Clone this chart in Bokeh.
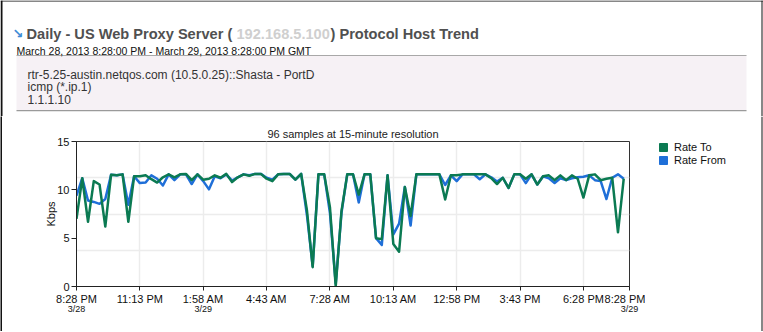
from bokeh.plotting import figure
from bokeh.layouts import column, row
from bokeh.models import (ColumnDataSource, Range1d, FixedTicker, LinearAxis,
                          Legend, LegendItem)
from bokeh.core.properties import value
from bokeh.embed import file_html
from bokeh.resources import INLINE

# ---------------- data ----------------
sample_minutes = [15 * i for i in range(96)]  # 96 samples at 15-minute resolution

rate_to = [7.0, 11.2, 6.7, 10.9, 10.55, 6.2, 11.55, 11.5, 11.6, 6.7,
           11.4, 11.4, 11.5, 11.1, 10.75, 11.3, 11.6, 11.3, 11.6, 11.65,
           11.0, 11.6, 11.05, 11.15, 11.5, 11.25, 11.65, 10.8, 11.3, 11.6,
           11.45, 11.65, 11.65, 11.15, 10.9, 11.6, 11.65, 11.65, 11.05, 11.65,
           7.9, 2.0, 11.6, 11.6, 8.2, 0.0, 7.8, 11.6, 11.6, 9.5,
           11.6, 11.6, 5.0, 4.9, 11.5, 4.4, 3.6, 10.3, 7.3, 11.6,
           11.6, 11.6, 11.6, 11.6, 9.0, 11.5, 11.5, 11.6, 11.6, 11.6,
           11.6, 11.6, 11.2, 10.6, 11.25, 10.2, 11.6, 11.6, 11.15, 11.6,
           10.55, 11.4, 11.5, 11.0, 11.5, 11.0, 11.5, 11.15, 9.2, 11.5,
           11.6, 11.0, 11.15, 11.25, 5.6, 11.15]

rate_from = [9.4, 11.2, 8.9, 8.75, 8.55, 9.05, 11.55, 11.5, 11.6, 8.45,
             11.4, 10.7, 10.75, 11.5, 11.15, 10.45, 11.6, 11.0, 11.6, 11.6,
             10.6, 11.6, 10.9, 10.05, 11.4, 11.2, 11.6, 10.95, 11.3, 11.6,
             11.5, 11.65, 11.65, 11.25, 11.05, 11.6, 11.65, 11.65, 11.05, 11.65,
             7.4, 2.1, 11.6, 11.6, 7.6, 0.3, 7.6, 11.6, 11.6, 8.7,
             11.6, 11.6, 5.0, 4.3, 11.5, 5.4, 6.5, 10.3, 6.3, 11.6,
             11.6, 11.6, 11.6, 11.6, 10.5, 11.5, 10.9, 11.6, 11.6, 11.6,
             11.1, 11.6, 11.3, 10.85, 11.25, 10.2, 11.6, 11.6, 10.7, 11.6,
             10.55, 11.4, 11.2, 10.7, 11.2, 11.0, 11.2, 11.3, 11.35, 11.5,
             11.0, 10.9, 9.05, 11.25, 11.6, 11.15]

tick_minutes = [0, 165, 330, 495, 660, 825, 990, 1155, 1320, 1440]
tick_labels = ["8:28 PM", "11:13 PM", "1:58 AM", "4:43 AM", "7:28 AM",
               "10:13 AM", "12:58 PM", "3:43 PM", "6:28 PM", "8:28 PM"]
date_tick_minutes = [0, 330, 1440]
date_labels = ["3/28", "3/29", "3/29"]
y_ticks = [0, 5, 10, 15]
y_grid_lines = [3.75, 7.5, 11.25]

series_names = ["Rate To", "Rate From"]

header_title_a = "Daily - US Web Proxy Server ("
header_ip = "192.168.5.100"
header_title_b = ") Protocol Host Trend"
header_period = "March 28, 2013 8:28:00 PM - March 29, 2013 8:28:00 PM GMT"
info_lines = ["rtr-5.25-austin.netqos.com (10.5.0.25)::Shasta - PortD",
              "icmp (*.ip.1)",
              "1.1.1.10"]
chart_title = "96 samples at 15-minute resolution"

# ---------------- style / page geometry ----------------
FONT = "Liberation Sans"
GREEN = "#0b7a52"
BLUE = "#1f6fd8"
EDGE = "#111111"
W, H = 763, 332
HH = 116                 # header height
RH = 215                 # chart row height (1px bottom border below)
LW = 2                   # left border strip
CW = 643                 # chart figure width
GW = W - LW - CW         # legend figure width
FL, FR, FT, FB = 76, 629, 141, 286   # frame edges on the full page

def blank(width, height, x_end, y_end, fill="white"):
    f = figure(width=width, height=height, output_backend="svg", toolbar_location=None,
               x_range=Range1d(0, x_end), y_range=Range1d(y_end, 0),
               x_axis_location=None, y_axis_location=None,
               min_border=0, outline_line_color=None, frame_align=False)
    f.grid.visible = False
    f.background_fill_color = fill
    f.border_fill_color = fill
    return f

# ---------------- header ----------------
hd = blank(W, HH, W, HH)
hd.quad(left=[16], right=[746], top=[55], bottom=[110], fill_color="#f6f1f5", line_color=None)
hd.quad(left=[16], right=[746], top=[54.5], bottom=[55.6], fill_color="#a8a8a8", line_color=None)
hd.quad(left=[16], right=[746], top=[109.5], bottom=[110.8], fill_color="#9a9a9a", line_color=None)
hd.quad(left=[0], right=[2], top=[0], bottom=[HH], fill_color=EDGE, line_color=None)
hd.quad(left=[761], right=[762], top=[0], bottom=[HH], fill_color=EDGE, line_color=None)
hd.quad(left=[0], right=[W], top=[0], bottom=[1], fill_color=EDGE, line_color=None)

def htext(txt, x, y, size, color, style="normal", font=FONT):
    hd.text(x=[x], y=[y], text=[txt], text_font=value(font), text_font_size=size,
            text_font_style=style, text_color=color,
            text_baseline="alphabetic", text_align="left")

htext("\u2198", 12, 33, "13px", "#3d8ad6", "bold", "DejaVu Sans")
htext(header_title_a, 26, 33.3, "14.6px", "#505050", "bold")
htext(header_ip, 236, 33.3, "14.6px", "#cfcfcf", "bold")
htext(header_title_b, 330, 33.3, "14.6px", "#505050", "bold")
htext(header_period, 16, 50.5, "10.5px", "#111111")
for line_text, yb in zip(info_lines, [74.5, 86.8, 99.0]):
    htext(line_text, 27, yb, "12px", "#333333")

# ---------------- chart ----------------
src = ColumnDataSource(dict(t=sample_minutes, to=rate_to, frm=rate_from))

p = figure(width=CW, height=RH, output_backend="svg", toolbar_location=None,
           x_range=Range1d(0, 1440), y_range=Range1d(0, 15),
           min_border_left=FL - LW, min_border_right=LW + CW - FR,
           min_border_top=FT - HH, min_border_bottom=HH + RH - FB, frame_align=False)
p.background_fill_color = "white"
p.border_fill_color = "white"
p.outline_line_color = "#333333"
p.outline_line_width = 1

p.title.text = chart_title
p.title.align = "center"
p.title.text_font = FONT
p.title.text_font_size = "11px"
p.title.text_font_style = "normal"
p.title.text_color = "#222222"
p.title.standoff = 4

xa = p.xaxis[0]
xa.ticker = FixedTicker(ticks=tick_minutes)
xa.major_label_overrides = {t: l for t, l in zip(tick_minutes, tick_labels)}
xa.major_tick_out = 4
xa.major_tick_in = 0
xa.minor_tick_line_color = None
xa.major_label_standoff = 2
xa.major_label_text_font = FONT
xa.major_label_text_font_size = "11px"
xa.major_label_text_color = "#111111"
xa.axis_line_color = "#222222"
xa.major_tick_line_color = "#222222"

date_axis = LinearAxis(ticker=FixedTicker(ticks=date_tick_minutes),
                       major_label_overrides={t: l for t, l in zip(date_tick_minutes, date_labels)},
                       axis_line_color=None, major_tick_line_color=None,
                       minor_tick_line_color=None, major_tick_out=0, major_tick_in=0,
                       major_label_standoff=-4,
                       major_label_text_font=FONT, major_label_text_font_size="9px",
                       major_label_text_color="#111111")
p.add_layout(date_axis, "below")

ya = p.yaxis[0]
ya.ticker = FixedTicker(ticks=y_ticks)
ya.major_tick_out = 5
ya.major_tick_in = 0
ya.minor_tick_line_color = None
ya.major_label_standoff = 2
ya.major_label_text_font = FONT
ya.major_label_text_font_size = "11px"
ya.major_label_text_color = "#111111"
ya.axis_line_color = "#222222"
ya.major_tick_line_color = "#222222"
ya.axis_label = "Kbps"
ya.axis_label_text_font = FONT
ya.axis_label_text_font_size = "11px"
ya.axis_label_text_font_style = "normal"
ya.axis_label_text_color = "#111111"
ya.axis_label_standoff = -3

p.xgrid.ticker = FixedTicker(ticks=tick_minutes)
p.ygrid.ticker = FixedTicker(ticks=y_grid_lines)
for g in (p.xgrid[0], p.ygrid[0]):
    g.grid_line_color = "#ececec"
    g.grid_line_width = 1.5

p.line("t", "frm", source=src, line_color=BLUE, line_width=2.5, line_join="round")
p.line("t", "to", source=src, line_color=GREEN, line_width=2.5, line_join="round")

# ---------------- legend panel ----------------
lg = blank(GW, RH, GW, RH)
lg.quad(left=[GW - 2], right=[GW - 1], top=[0], bottom=[RH], fill_color=EDGE, line_color=None)
r_to = lg.rect("t", "to", width=1, height=1, source=src, fill_color=GREEN, line_color=GREEN, visible=False)
r_from = lg.rect("t", "frm", width=1, height=1, source=src, fill_color=BLUE, line_color=BLUE, visible=False)
legend = Legend(items=[LegendItem(label=series_names[0], renderers=[r_to]),
                       LegendItem(label=series_names[1], renderers=[r_from])],
                location=(658 - LW - CW, RH - (134.7 - HH) - 32), orientation="vertical",
                glyph_width=10, glyph_height=10, label_height=13, label_width=10,
                spacing=0, padding=3, margin=0, label_standoff=6,
                border_line_color=None, background_fill_alpha=0,
                label_text_font=FONT, label_text_font_size="11px",
                label_text_color="#111111")
lg.add_layout(legend)

left_strip = blank(LW, RH, LW, RH, fill=EDGE)
bottom_strip = blank(W, 1, W, 1, fill=EDGE)

page = column(hd, row(left_strip, p, lg, spacing=0), bottom_strip, spacing=0)

open("out.html", "w").write(file_html(page, INLINE))
